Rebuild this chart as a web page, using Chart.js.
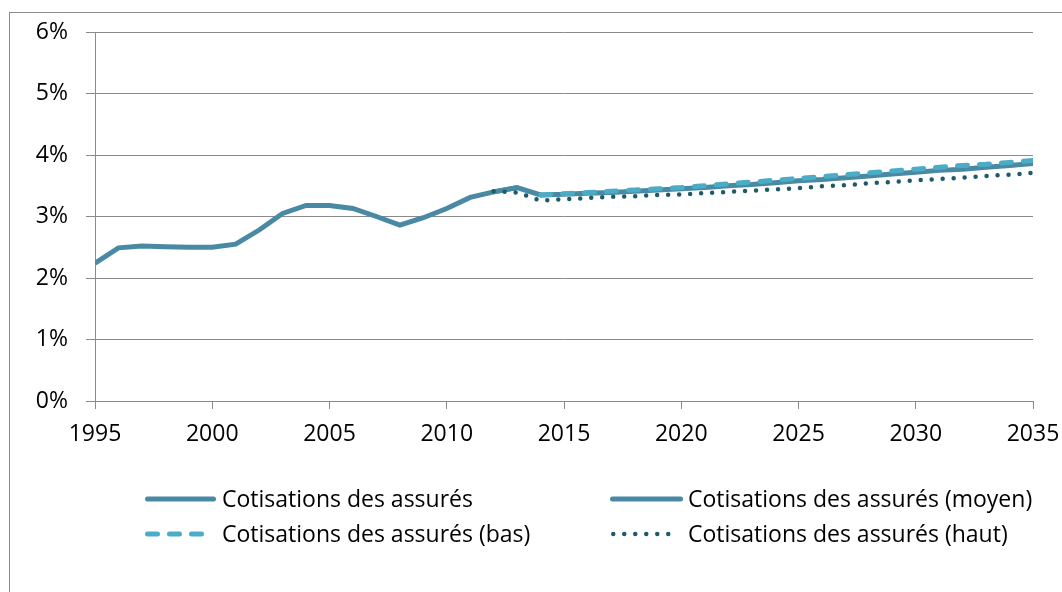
<!DOCTYPE html>
<html>
<head>
<meta charset="utf-8">
<script src="https://cdn.jsdelivr.net/npm/chart.js@4/dist/chart.umd.min.js"></script>
<style>
  html, body { margin: 0; padding: 0; background: #fff; overflow: hidden; }
  #wrap { position: relative; width: 1062px; height: 592px; }
  #cadre { position: absolute; left: 9px; top: 12px; width: 1200px; height: 800px;
           border-left: 1px solid #8c8c8c; border-top: 1px solid #8c8c8c; }
  canvas { position: absolute; left: 0; top: 0; }
  .leg { position: absolute; font-family: "Open Sans", "Liberation Sans", sans-serif; font-size: 23px;
         color: #000; line-height: 28px; white-space: nowrap; }
  .ech { position: absolute; }
</style>
</head>
<body>
<div id="wrap">
  <div id="cadre"></div>
  <canvas id="grafico" width="1062" height="592"></canvas>
  <div id="legende"></div>
</div>
<script>
// années et valeurs (en %)
const anneesHisto = [1995, 1996, 1997, 1998, 1999, 2000, 2001, 2002, 2003, 2004,
                     2005, 2006, 2007, 2008, 2009, 2010, 2011, 2012, 2013];
const cotisations = [2.24, 2.49, 2.52, 2.51, 2.50, 2.50, 2.55, 2.78, 3.05, 3.18,
                     3.18, 3.13, 3.00, 2.86, 2.98, 3.13, 3.31, 3.40, 3.47];

const anneesProj = [2012, 2013, 2014, 2015, 2016, 2017, 2018, 2019, 2020, 2021, 2022, 2023,
                    2024, 2025, 2026, 2027, 2028, 2029, 2030, 2031, 2032, 2033, 2034, 2035];
const moyen = [3.40, 3.47, 3.35, 3.36, 3.38, 3.39, 3.41, 3.43, 3.45, 3.47, 3.50, 3.52,
               3.55, 3.58, 3.60, 3.63, 3.66, 3.69, 3.72, 3.75, 3.77, 3.80, 3.83, 3.86];
const haut  = [3.41, 3.39, 3.26, 3.28, 3.30, 3.32, 3.33, 3.35, 3.36, 3.38, 3.40, 3.42,
               3.44, 3.46, 3.49, 3.51, 3.54, 3.56, 3.59, 3.61, 3.63, 3.66, 3.68, 3.71];

const anneesBas = [2014, 2015, 2016, 2017, 2018, 2019, 2020, 2021, 2022, 2023, 2024,
                   2025, 2026, 2027, 2028, 2029, 2030, 2031, 2032, 2033, 2034, 2035];
const bas = [3.35, 3.37, 3.39, 3.41, 3.43, 3.45, 3.47, 3.50, 3.53, 3.56, 3.59,
             3.62, 3.65, 3.68, 3.71, 3.74, 3.77, 3.80, 3.83, 3.85, 3.88, 3.91];

const etiquettes = ["Cotisations des assurés", "Cotisations des assurés (moyen)",
                    "Cotisations des assurés (bas)", "Cotisations des assurés (haut)"];

const couleurSolide = "#4a89a3";
const couleurBas = "#4bacc6";
const couleurHaut = "#1f5a69";
const couleurGrille = "#8a8a8a";

const police = '"Open Sans", "Liberation Sans", sans-serif';

function points(xs, ys) {
    return xs.map((x, i) => ({ x: x, y: ys[i] }));
}

const datasets = [
    { label: etiquettes[0], data: points(anneesHisto, cotisations), borderColor: couleurSolide,
      borderWidth: 5, order: 3 },
    { label: etiquettes[1], data: points(anneesProj, moyen), borderColor: couleurSolide,
      borderWidth: 5, order: 2 },
    { label: etiquettes[2], data: points(anneesBas, bas), borderColor: couleurBas,
      borderWidth: 5, borderDash: [10, 12], borderCapStyle: "round", order: 1 },
    { label: etiquettes[3], data: points(anneesProj, haut), borderColor: couleurHaut,
      borderWidth: 4.5, borderDash: [0, 11], borderCapStyle: "round", order: 0 }
];

const ctx = document.getElementById("grafico").getContext("2d");
const grafico = new Chart(ctx, {
    type: "line",
    data: { datasets: datasets },
    options: {
        responsive: false,
        animation: false,
        events: [],
        layout: { padding: { left: 9, top: 32, right: 29, bottom: 0 } },
        elements: { point: { radius: 0 }, line: { tension: 0, fill: false } },
        plugins: { legend: { display: false }, tooltip: { enabled: false } },
        scales: {
            x: {
                type: "linear",
                min: 1995, max: 2035,
                afterFit: s => { s.height = 191; s.paddingLeft = 0; s.paddingRight = 0; },
                ticks: { stepSize: 5, color: "#000", padding: 12,
                         font: { family: police, size: 23 },
                         callback: v => String(v) },
                grid: { drawOnChartArea: false, color: couleurGrille, tickLength: 8 },
                border: { color: couleurGrille }
            },
            y: {
                min: 0, max: 6,
                afterFit: s => { s.width = 86; },
                ticks: { stepSize: 1, color: "#000", padding: 18,
                         font: { family: police, size: 23 },
                         callback: v => v + "%" },
                grid: { color: couleurGrille, tickLength: 9 },
                border: { color: couleurGrille }
            }
        }
    }
});

// légende en grille, deux colonnes comme dans l'original
const legende = document.getElementById("legende");
const cases = [
    { i: 0, x1: 145, x2: 216, tx: 222, y: 499 },
    { i: 1, x1: 610, x2: 683, tx: 688, y: 499 },
    { i: 2, x1: 145, x2: 208, tx: 222, y: 534 },
    { i: 3, x1: 611, x2: 674, tx: 688, y: 534 }
];
cases.forEach(c => {
    const ds = grafico.data.datasets[c.i];
    const w = ds.borderWidth;
    const dash = ds.borderDash ? ds.borderDash.join(" ") : "none";
    const svg = document.createElementNS("http://www.w3.org/2000/svg", "svg");
    svg.setAttribute("class", "ech");
    svg.setAttribute("width", c.x2 - c.x1);
    svg.setAttribute("height", 10);
    svg.style.left = c.x1 + "px";
    svg.style.top = (c.y - 5) + "px";
    const ligne = document.createElementNS("http://www.w3.org/2000/svg", "line");
    ligne.setAttribute("x1", w / 2);
    ligne.setAttribute("x2", c.x2 - c.x1 - w / 2);
    ligne.setAttribute("y1", 5);
    ligne.setAttribute("y2", 5);
    ligne.setAttribute("stroke", ds.borderColor);
    ligne.setAttribute("stroke-width", w);
    ligne.setAttribute("stroke-linecap", "round");
    if (dash !== "none") ligne.setAttribute("stroke-dasharray", dash);
    svg.appendChild(ligne);
    legende.appendChild(svg);

    const t = document.createElement("div");
    t.className = "leg";
    t.textContent = ds.label;
    t.style.left = c.tx + "px";
    t.style.top = (c.y - 15) + "px";
    legende.appendChild(t);
});
</script>
</body>
</html>
